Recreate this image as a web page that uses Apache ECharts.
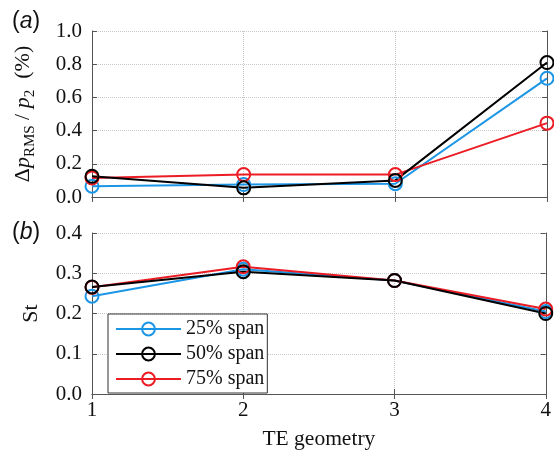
<!DOCTYPE html>
<html>
<head>
<meta charset="utf-8">
<script src="https://cdn.jsdelivr.net/npm/echarts@6/dist/echarts.min.js"></script>
<style>
  html, body { margin: 0; padding: 0; background: #fff; }
  #chart { width: 554px; height: 451px; }
</style>
</head>
<body>
<div id="chart"></div>
<script>
// TE geometry index on the shared x axis
const geometries = [1, 2, 3, 4];
const seriesNames = ['25% span', '50% span', '75% span'];

// (a) normalised RMS pressure fluctuation, %
const prms25 = [0.065, 0.075, 0.08, 0.715];
const prms50 = [0.125, 0.055, 0.10, 0.81];
const prms75 = [0.115, 0.135, 0.135, 0.445];

// (b) Strouhal number
const st25 = [0.243, 0.31, 0.282, 0.205];
const st50 = [0.266, 0.304, 0.282, 0.2];
const st75 = [0.265, 0.316, 0.282, 0.211];

const ticksA = [0, 0.2, 0.4, 0.6, 0.8, 1.0];
const ticksB = [0, 0.1, 0.2, 0.3, 0.4];

const colors = { '25% span': '#1b96e6', '50% span': '#000000', '75% span': '#ec1c24' };
const serif = 'Liberation Serif';
const boxColor = '#555';
const gridLine = { show: true, lineStyle: { color: '#c8c8c8', type: 'dotted', width: 1 } };

function pairs(vals) { return geometries.map((g, i) => [g, vals[i]]); }

function bottomX(gridIndex, showLabels, name) {
  return {
    type: 'value', gridIndex, min: 1, max: 4, interval: 1, position: 'bottom',
    axisLine: { show: true, lineStyle: { color: boxColor, width: 1 } },
    axisTick: { show: true, inside: true, length: 5, lineStyle: { color: boxColor } },
    axisLabel: { show: showLabels, fontFamily: serif, fontSize: 21, color: '#111', margin: 6 },
    splitLine: gridLine,
    name: name || '', nameLocation: 'middle', nameGap: 34,
    nameTextStyle: { fontFamily: serif, fontSize: 21.5, color: '#111' }
  };
}
function topX(gridIndex) {
  return {
    type: 'value', gridIndex, min: 1, max: 4, interval: 1, position: 'top',
    axisLine: { show: true, lineStyle: { color: boxColor, width: 1 } },
    axisTick: { show: true, inside: true, length: 5, lineStyle: { color: boxColor } },
    axisLabel: { show: false }, splitLine: { show: false }
  };
}
function leftY(gridIndex, ticks, name, nameGap, rich) {
  const step = ticks[1] - ticks[0];
  return {
    type: 'value', gridIndex, min: ticks[0], max: ticks[ticks.length - 1], interval: step,
    position: 'left',
    axisLine: { show: true, lineStyle: { color: boxColor, width: 1 } },
    axisTick: { show: true, inside: true, length: 5, lineStyle: { color: boxColor } },
    axisLabel: { fontFamily: serif, fontSize: 21, color: '#111', margin: 10,
                 formatter: v => v.toFixed(1) },
    splitLine: gridLine,
    name, nameLocation: 'middle', nameGap, nameRotate: 90,
    nameTextStyle: Object.assign({ fontFamily: serif, fontSize: 22, color: '#111' }, rich ? { rich } : {})
  };
}
function rightY(gridIndex, ticks) {
  const step = ticks[1] - ticks[0];
  return {
    type: 'value', gridIndex, min: ticks[0], max: ticks[ticks.length - 1], interval: step,
    position: 'right',
    axisLine: { show: true, lineStyle: { color: boxColor, width: 1 } },
    axisTick: { show: true, inside: true, length: 5, lineStyle: { color: boxColor } },
    axisLabel: { show: false }, splitLine: { show: false }
  };
}

function lineSeries(name, vals, xi, yi) {
  const c = colors[name];
  return {
    name, type: 'line', xAxisIndex: xi, yAxisIndex: yi, data: pairs(vals),
    symbol: 'circle', symbolSize: 13,
    lineStyle: { color: c, width: 2 },
    itemStyle: { color: 'rgba(255,255,255,0)', borderColor: c, borderWidth: 2 },
    emphasis: { disabled: true }, animation: false
  };
}

const richY = {
  m: { fontFamily: serif, fontSize: 22, color: '#111', lineHeight: 30, verticalAlign: 'middle' },
  i: { fontFamily: serif, fontSize: 22, fontStyle: 'italic', color: '#111', lineHeight: 30, verticalAlign: 'middle' },
  s: { fontFamily: serif, fontSize: 15, color: '#111', lineHeight: 16, verticalAlign: 'bottom' }
};

const chart = echarts.init(document.getElementById('chart'), null, { renderer: 'canvas' });
chart.setOption({
  animation: false,
  backgroundColor: '#fff',
  grid: [
    { left: 92, right: 7, top: 31, height: 166, show: false },
    { left: 92, right: 7, top: 233, height: 168, show: false }
  ],
  xAxis: [bottomX(0, false), topX(0), bottomX(1, true, 'TE geometry'), topX(1)],
  yAxis: [
    leftY(0, ticksA, '{m|Δ}{i|p}{s|RMS}{m| / }{i|p}{s|2}{m|  (%)}', 54, richY),
    rightY(0, ticksA),
    leftY(1, ticksB, 'St', 50),
    rightY(1, ticksB)
  ],
  legend: {
    data: seriesNames,
    orient: 'vertical', left: 108, top: 314,
    padding: [5, 3, 4, 7],
    itemWidth: 65, itemHeight: 16, itemGap: 5,
    backgroundColor: '#fff', borderColor: '#333', borderWidth: 1,
    textStyle: { fontFamily: serif, fontSize: 20, color: '#111' },
    selectedMode: false
  },
  graphic: [
    { type: 'text', left: 12, top: 10,
      style: { text: '{n|(}{a|a}{n|)}', rich: {
        n: { fontFamily: 'Liberation Sans', fontSize: 23, fill: '#111' },
        a: { fontFamily: 'Liberation Sans', fontSize: 23, fontStyle: 'italic', fill: '#111' } } } },
    { type: 'text', left: 12, top: 221,
      style: { text: '{n|(}{a|b}{n|)}', rich: {
        n: { fontFamily: 'Liberation Sans', fontSize: 23, fill: '#111' },
        a: { fontFamily: 'Liberation Sans', fontSize: 23, fontStyle: 'italic', fill: '#111' } } } }
  ],
  series: [
    lineSeries('25% span', prms25, 0, 0),
    lineSeries('75% span', prms75, 0, 0),
    lineSeries('50% span', prms50, 0, 0),
    lineSeries('25% span', st25, 2, 2),
    lineSeries('75% span', st75, 2, 2),
    lineSeries('50% span', st50, 2, 2)
  ]
});
</script>
</body>
</html>
